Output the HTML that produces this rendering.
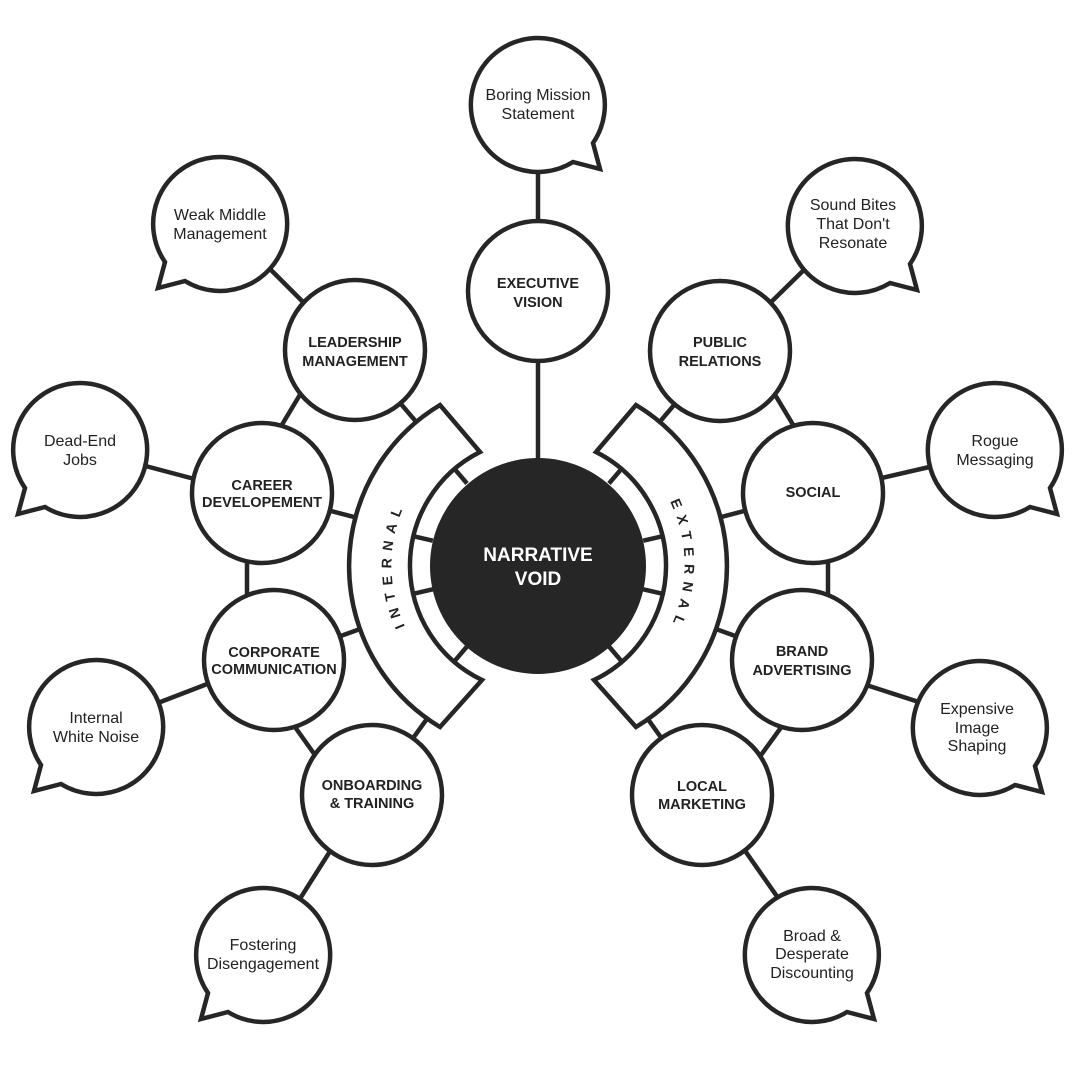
<!DOCTYPE html>
<html><head><meta charset="utf-8"><style>
html,body{margin:0;padding:0;background:#fff;}
svg{display:block;}
.n{font-family:"Liberation Sans",sans-serif;font-weight:bold;font-size:14.5px;fill:#222;text-anchor:middle;}
.b{font-family:"Liberation Sans",sans-serif;font-size:16px;fill:#222;text-anchor:middle;}
</style></head><body>
<svg width="1080" height="1080" viewBox="0 0 1080 1080">
<g stroke="#262626" stroke-width="4.5" fill="none" stroke-linecap="butt">
<line x1="538" y1="565" x2="355" y2="350"/>
<line x1="538" y1="565" x2="262" y2="493"/>
<line x1="538" y1="565" x2="274" y2="660"/>
<line x1="538" y1="565" x2="372" y2="795"/>
<line x1="538" y1="565" x2="720" y2="351"/>
<line x1="538" y1="565" x2="813" y2="493"/>
<line x1="538" y1="565" x2="802" y2="660"/>
<line x1="538" y1="565" x2="702" y2="795"/>
<line x1="304" y1="388" x2="277" y2="433"/>
<line x1="247" y1="545" x2="247" y2="610"/>
<line x1="290" y1="720" x2="320" y2="762"/>
<line x1="771" y1="388" x2="798" y2="433"/>
<line x1="828" y1="545" x2="828" y2="610"/>
<line x1="785" y1="722" x2="756" y2="762"/>
<line x1="538" y1="150" x2="538" y2="240"/>
<line x1="263" y1="262" x2="313" y2="312"/>
<line x1="138" y1="464" x2="202" y2="481"/>
<line x1="150" y1="706" x2="215" y2="681"/>
<line x1="296" y1="905" x2="334" y2="845"/>
<line x1="763" y1="310" x2="812" y2="262"/>
<line x1="873" y1="480" x2="938" y2="465"/>
<line x1="860" y1="683" x2="925" y2="704"/>
<line x1="741" y1="845" x2="783" y2="905"/>
</g>
<circle cx="538" cy="566" r="130" fill="#fff"/>
<g stroke="#262626" stroke-width="4.5" fill="#fff" stroke-linejoin="miter">
<path d="M480,452 L440,405 A188,188 0 0 0 440,727 L482,680 A127,127 0 0 1 480,452 Z"/>
<path d="M596,452 L636,405 A188,188 0 0 1 636,727 L594,680 A127,127 0 0 0 596,452 Z"/>
</g>
<line x1="538" y1="291" x2="538" y2="470" stroke="#262626" stroke-width="4.5"/>
<g stroke="#262626" stroke-width="4.5">
<line x1="467" y1="483.5" x2="454.7" y2="469.1"/>
<line x1="432.8" y1="540.7" x2="414.3" y2="536.4"/>
<line x1="432.8" y1="589.3" x2="414.3" y2="593.6"/>
<line x1="467" y1="646.5" x2="454.7" y2="660.9"/>
<line x1="609" y1="483.5" x2="621.3" y2="469.1"/>
<line x1="643.2" y1="540.7" x2="661.7" y2="536.4"/>
<line x1="643.2" y1="589.3" x2="661.7" y2="593.6"/>
<line x1="609" y1="646.5" x2="621.3" y2="660.9"/>
</g>
<circle cx="538" cy="566" r="108" fill="#262626"/>
<text x="538" y="561" font-family="Liberation Sans,sans-serif" font-weight="bold" font-size="19" fill="#fff" text-anchor="middle">NARRATIVE</text>
<text x="538" y="585" font-family="Liberation Sans,sans-serif" font-weight="bold" font-size="19" fill="#fff" text-anchor="middle">VOID</text>
<defs>
<path id="ia" d="M 403.5,623 A 146,146 0 0 1 403.5,507" />
<path id="ea" d="M 672.5,507 A 146,146 0 0 1 672.5,623" />
</defs>
<text font-family="Liberation Sans,sans-serif" font-weight="bold" font-size="14" fill="#222" letter-spacing="7"><textPath href="#ia" startOffset="50%" text-anchor="middle">INTERNAL</textPath></text>
<text font-family="Liberation Sans,sans-serif" font-weight="bold" font-size="14" fill="#222" letter-spacing="7"><textPath href="#ea" startOffset="50%" text-anchor="middle">EXTERNAL</textPath></text>
<g stroke="#262626" stroke-width="4.5" fill="#fff">
<circle cx="538" cy="291" r="70"/>
<circle cx="355" cy="350" r="70"/>
<circle cx="262" cy="493" r="70"/>
<circle cx="274" cy="660" r="70"/>
<circle cx="372" cy="795" r="70"/>
<circle cx="720" cy="351" r="70"/>
<circle cx="813" cy="493" r="70"/>
<circle cx="802" cy="660" r="70"/>
<circle cx="702" cy="795" r="70"/>
<path d="M593,143 L600,169 L573,162 A67,67 0 1 1 593,143 Z"/>
<path d="M910,264 L917,290 L890,283 A67,67 0 1 1 910,264 Z"/>
<path d="M1050,488 L1057,514 L1030,507 A67,67 0 1 1 1050,488 Z"/>
<path d="M1035,766 L1042,792 L1015,785 A67,67 0 1 1 1035,766 Z"/>
<path d="M867,993 L874,1019 L847,1012 A67,67 0 1 1 867,993 Z"/>
<path d="M165,262 L158,288 L185,281 A67,67 0 1 0 165,262 Z"/>
<path d="M25,488 L18,514 L45,507 A67,67 0 1 0 25,488 Z"/>
<path d="M41,765 L34,791 L61,784 A67,67 0 1 0 41,765 Z"/>
<path d="M208,993 L201,1019 L228,1012 A67,67 0 1 0 208,993 Z"/>
</g>
<text class="n" x="538" y="288">EXECUTIVE</text><text class="n" x="538" y="307">VISION</text>
<text class="n" x="355" y="347">LEADERSHIP</text><text class="n" x="355" y="366">MANAGEMENT</text>
<text class="n" x="262" y="490">CAREER</text><text class="n" x="262" y="507">DEVELOPEMENT</text>
<text class="n" x="274" y="657">CORPORATE</text><text class="n" x="274" y="674">COMMUNICATION</text>
<text class="n" x="372" y="790">ONBOARDING</text><text class="n" x="372" y="808">&amp; TRAINING</text>
<text class="n" x="720" y="347">PUBLIC</text><text class="n" x="720" y="366">RELATIONS</text>
<text class="n" x="813" y="497">SOCIAL</text>
<text class="n" x="802" y="656">BRAND</text><text class="n" x="802" y="675">ADVERTISING</text>
<text class="n" x="702" y="791">LOCAL</text><text class="n" x="702" y="809">MARKETING</text>
<text class="b" x="538" y="100">Boring Mission</text><text class="b" x="538" y="119">Statement</text>
<text class="b" x="220" y="220">Weak Middle</text><text class="b" x="220" y="239">Management</text>
<text class="b" x="80" y="446">Dead-End</text><text class="b" x="80" y="465">Jobs</text>
<text class="b" x="96" y="723">Internal</text><text class="b" x="96" y="742">White Noise</text>
<text class="b" x="263" y="950">Fostering</text><text class="b" x="263" y="969">Disengagement</text>
<text class="b" x="853" y="210">Sound Bites</text><text class="b" x="853" y="229">That Don't</text><text class="b" x="853" y="248">Resonate</text>
<text class="b" x="995" y="446">Rogue</text><text class="b" x="995" y="465">Messaging</text>
<text class="b" x="977" y="714">Expensive</text><text class="b" x="977" y="733">Image</text><text class="b" x="977" y="751">Shaping</text>
<text class="b" x="812" y="941">Broad &amp;</text><text class="b" x="812" y="959">Desperate</text><text class="b" x="812" y="978">Discounting</text>
</svg>
</body></html>
